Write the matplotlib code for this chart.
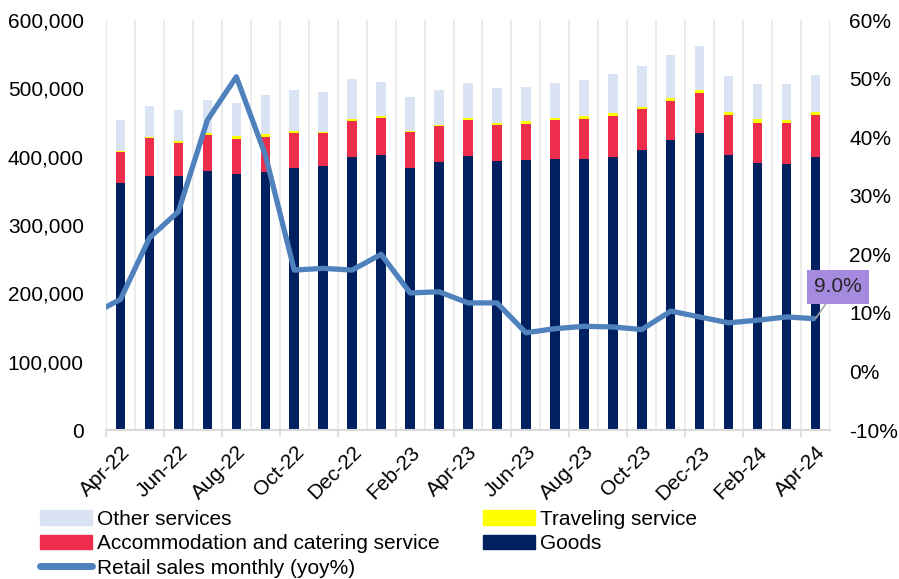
import matplotlib
matplotlib.use("Agg")
import matplotlib.pyplot as plt
import numpy as np
from matplotlib.lines import Line2D
from matplotlib.patches import Patch

plt.rcParams['font.family'] = ['Liberation Sans', 'DejaVu Sans']

months = ["Apr-22", "May-22", "Jun-22", "Jul-22", "Aug-22", "Sep-22", "Oct-22", "Nov-22",
          "Dec-22", "Jan-23", "Feb-23", "Mar-23", "Apr-23", "May-23", "Jun-23", "Jul-23",
          "Aug-23", "Sep-23", "Oct-23", "Nov-23", "Dec-23", "Jan-24", "Feb-24", "Mar-24", "Apr-24"]

goods = [361, 372, 371, 379, 374, 377, 384, 387, 400, 402, 384, 392, 401, 393, 395, 397,
         397, 400, 410, 424, 434, 402, 391, 390, 400]
accommodation = [46, 55.5, 49, 53, 52.5, 52.5, 51, 47, 52, 55, 52, 53, 53, 54, 53, 56,
                 58.5, 60, 60, 58, 59.5, 58.5, 59, 58.6, 61]
traveling = [1.5, 2, 2.5, 3, 4, 4, 2.5, 2, 3, 2.5, 2, 2, 2.4, 2, 3.5, 3.4,
             3.5, 4.4, 3.4, 3.9, 3.4, 4.4, 5.3, 4.9, 4.8]
other = [45, 44.5, 46.5, 48, 47.6, 56.6, 60, 59, 59, 50, 50, 50, 51.7, 51, 51, 52,
         52.7, 56.6, 59.6, 62.4, 65, 53.7, 50.8, 52.7, 53.3]

# Retail sales yoy (%); first value is Mar-22 (just left of the plotted range)
yoy_prev = 9.7
yoy = [12.3, 22.8, 27.3, 42.9, 50.3, 37.0, 17.3, 17.6, 17.3, 20.0, 13.4, 13.6, 11.7, 11.7,
       6.6, 7.3, 7.7, 7.6, 7.15, 10.3, 9.3, 8.3, 8.75, 9.3, 9.0]

label_text = "9.0%"

c_goods = "#002060"
c_acc = "#EE2D4C"
c_trav = "#FFFF00"
c_other = "#DAE3F3"
c_line = "#4F81BD"

FS = 15

fig = plt.figure(figsize=(8.99, 5.79), dpi=100)
ax = fig.add_axes([106/899, 1-430/579, (830-106)/899, (430-20)/579])
ax2 = ax.twinx()

x = np.arange(len(months))
g = np.array(goods) * 1000
a = np.array(accommodation) * 1000
t = np.array(traveling) * 1000
o = np.array(other) * 1000

# vertical gridlines at category boundaries
bounds = np.arange(len(months) + 1) - 0.5
for b in bounds:
    ax.axvline(b, color="#EBEBEB", lw=1.5, zorder=0)

w = 0.33
ax.bar(x, g, w, color=c_goods, zorder=2)
ax.bar(x, a, w, bottom=g, color=c_acc, zorder=2)
ax.bar(x, t, w, bottom=g + a, color=c_trav, zorder=2)
ax.bar(x, o, w, bottom=g + a + t, color=c_other, zorder=2)

ax.set_xlim(-0.5, len(months) - 0.5)
ax.set_ylim(0, 600000)
ax.set_yticks(np.arange(0, 600001, 100000))
ax.set_yticklabels([f"{v:,}" for v in range(0, 600001, 100000)])

# x ticks: marks every other boundary, labels at centers
ax.set_xticks(bounds[::2])
ax.set_xticklabels([])
ax.tick_params(axis='x', which='major', length=5, color="#D9D9D9", width=1.2)
ax.set_xticks(x[::2], minor=True)
ax.set_xticklabels(months[::2], minor=True, rotation=45, ha='right', rotation_mode='anchor')
ax.tick_params(axis='x', which='minor', length=0, labelsize=FS, pad=9)
ax.tick_params(axis='y', length=0, labelsize=FS, pad=16)

for sp in ["top", "left", "right"]:
    ax.spines[sp].set_visible(False)
    ax2.spines[sp].set_visible(False)
ax.spines["bottom"].set_color("#D9D9D9")
ax.spines["bottom"].set_linewidth(1.5)
ax2.spines["bottom"].set_visible(False)

xl = np.concatenate([[x[0] - 1], x])
yl = np.concatenate([[yoy_prev], yoy])
ax2.plot(xl, yl, color=c_line, lw=3.8, solid_joinstyle='round', solid_capstyle='butt', zorder=5)
ax2.set_ylim(-10, 60)
ax2.set_yticks(np.arange(-10, 61, 10))
ax2.set_yticklabels([f"{v}%" for v in range(-10, 61, 10)])
ax2.tick_params(axis='y', length=0, labelsize=FS, pad=14)
ax.set_zorder(1)
ax2.set_zorder(2)
ax2.patch.set_visible(False)

ax2.annotate(label_text, xy=(x[-1], yoy[-1]), xytext=(16, 23), textcoords='offset points',
             fontsize=FS, color="#262626", ha='center', va='center',
             bbox=dict(boxstyle='square,pad=0.35', fc="#A68ADF", ec='none'),
             arrowprops=dict(arrowstyle='-', color="#A6A6A6", lw=1.2, shrinkA=0, shrinkB=0),
             annotation_clip=False, zorder=10)

handles = [Patch(color=c_other), Patch(color=c_acc),
           Line2D([0], [0], color=c_line, lw=5, solid_capstyle='round'),
           Patch(color=c_trav), Patch(color=c_goods)]
labels = ["Other services", "Accommodation and catering service", "Retail sales monthly (yoy%)",
          "Traveling service", "Goods"]
fig.legend(handles, labels, ncol=2, loc='upper left', bbox_to_anchor=(0.0445, 0.120),
           bbox_transform=fig.transFigure, frameon=False, fontsize=FS,
           handlelength=2.5, handleheight=0.7, handletextpad=0.25, labelspacing=0.27,
           columnspacing=2.05, borderaxespad=0, borderpad=0)

fig.savefig("out.png", dpi=100)
